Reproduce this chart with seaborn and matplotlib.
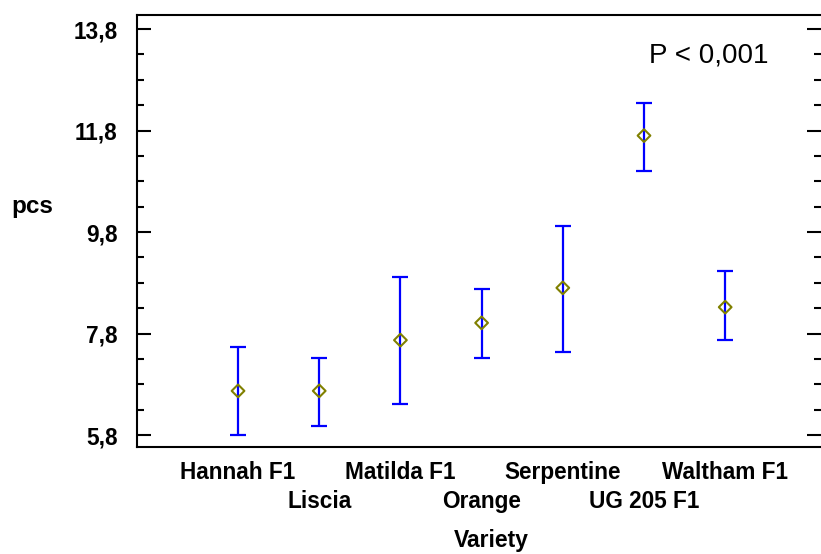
import numpy as np
import pandas as pd
import matplotlib
matplotlib.use("Agg")
import matplotlib.pyplot as plt
import seaborn as sns
from matplotlib.ticker import MultipleLocator

varieties = ["Hannah F1", "Liscia", "Matilda F1", "Orange", "Serpentine", "UG 205 F1", "Waltham F1"]
means = [6.67, 6.67, 7.67, 8.01, 8.70, 11.70, 8.32]
lower = [5.80, 5.98, 6.41, 7.32, 7.44, 11.01, 7.67]
upper = [7.54, 7.32, 8.92, 8.68, 9.92, 12.35, 9.03]
y_ticks = [5.8, 7.8, 9.8, 11.8, 13.8]
y_labels = ["5,8", "7,8", "9,8", "11,8", "13,8"]
p_text = "P < 0,001"

sns.set_style("ticks")
plt.rcParams["font.family"] = ["Liberation Sans", "DejaVu Sans"]
plt.rcParams["text.color"] = "black"
plt.rcParams["axes.edgecolor"] = "black"
plt.rcParams["xtick.color"] = "black"
plt.rcParams["ytick.color"] = "black"

df = pd.DataFrame({"Variety": varieties, "pcs": means, "lo": lower, "hi": upper})
df["pos"] = np.arange(len(df))

fig = plt.figure(figsize=(8.21, 5.54), dpi=100)
ax = fig.add_axes([0.1669, 0.1931, 0.8331, 0.7798])

# confidence intervals
ax.errorbar(df["pos"], df["pcs"],
            yerr=[df["pcs"] - df["lo"], df["hi"] - df["pcs"]],
            fmt="none", ecolor="#0000ff", elinewidth=1.6,
            capsize=6, capthick=1.6, zorder=2)

# means
sns.scatterplot(data=df, x="pos", y="pcs", marker="D", s=42,
                facecolor="none", edgecolor="#808000", linewidth=1.5,
                ax=ax, zorder=3, legend=False)

ax.set_xlim(-1.244, 7.18)
ax.set_ylim(5.564, 14.076)
ax.set_xlabel("")
ax.set_ylabel("")

ax.set_xticks(df["pos"])
ax.set_xticklabels(varieties, fontsize=16.3, fontweight="bold")
ax.tick_params(axis="x", length=0, pad=10, colors="black")
# alternate labels on two rows
for i, tick in enumerate(ax.xaxis.get_major_ticks()):
    if i % 2 == 1:
        tick.set_pad(10 + 21)

ax.set_yticks(y_ticks)
ax.set_yticklabels(y_labels, fontsize=16.3, fontweight="bold")
ax.yaxis.set_minor_locator(MultipleLocator(0.5, offset=0.3))
ax.tick_params(axis="y", which="both", direction="in", left=True, right=True,
               width=1.5, colors="black", pad=14)
ax.tick_params(axis="y", which="major", length=10)
ax.tick_params(axis="y", which="minor", length=5)

for side in ["left", "top", "bottom"]:
    ax.spines[side].set_linewidth(1.5)
    ax.spines[side].set_visible(True)
ax.spines["right"].set_visible(False)

fig.text(32 / 821, 1 - 213 / 554, "pcs", fontsize=17.5, fontweight="bold",
         ha="center", va="baseline")
fig.text(491 / 821, 1 - 540 / 554, "Variety", fontsize=16.5, fontweight="bold",
         ha="center", va="center")
fig.text(649 / 821, 1 - 55 / 554, p_text, fontsize=20, ha="left", va="center")

fig.savefig("out.png", dpi=100)
